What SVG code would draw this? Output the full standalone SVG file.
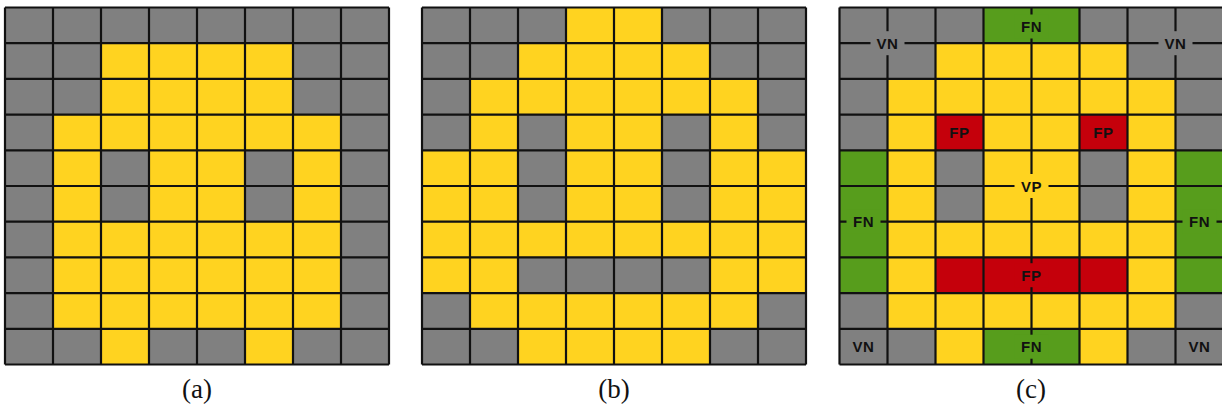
<svg xmlns="http://www.w3.org/2000/svg" xmlns:xlink="http://www.w3.org/1999/xlink" width="1222" height="413" viewBox="0 0 1222 413">
<style>
.g{fill:#808080}
.y{fill:#FFD320}
.gr{fill:#579D1C}
.r{fill:#C5000B}
.lines{fill:none;stroke:#111;stroke-width:2.2}
.lbl{font-family:"Liberation Sans",Arial,sans-serif;font-weight:bold;font-size:15px;letter-spacing:0.6px;fill:#111;text-anchor:middle}
.cap{font-family:"Liberation Serif","Times New Roman",serif;font-size:27px;fill:#111;text-anchor:middle}
</style>
<defs>
<path id="grid" class="lines" d="M0 0V357M48 0V357M96 0V357M144 0V357M192 0V357M240 0V357M288 0V357M336 0V357M384 0V357M0 0H384M0 35.7H384M0 71.4H384M0 107.1H384M0 142.8H384M0 178.5H384M0 214.2H384M0 249.9H384M0 285.6H384M0 321.3H384M0 357H384"/>
</defs>
<rect width="1222" height="413" fill="#fff"/>

<g id="grid-a" transform="translate(5,7.5)">
<rect class="g" x="0" y="0" width="384" height="357"/>
<rect class="y" x="96" y="35.7" width="192" height="71.4"/>
<rect class="y" x="48" y="107.1" width="288" height="35.7"/>
<rect class="y" x="48" y="142.8" width="48" height="71.4"/>
<rect class="y" x="144" y="142.8" width="96" height="71.4"/>
<rect class="y" x="288" y="142.8" width="48" height="71.4"/>
<rect class="y" x="48" y="214.2" width="288" height="107.1"/>
<rect class="y" x="96" y="321.3" width="48" height="35.7"/>
<rect class="y" x="240" y="321.3" width="48" height="35.7"/>
<use xlink:href="#grid" href="#grid"/>
</g>

<g id="grid-b" transform="translate(422,7.5)">
<rect class="g" x="0" y="0" width="384" height="357"/>
<rect class="y" x="144" y="0" width="96" height="35.7"/>
<rect class="y" x="96" y="35.7" width="192" height="35.7"/>
<rect class="y" x="48" y="71.4" width="288" height="35.7"/>
<rect class="y" x="48" y="107.1" width="48" height="35.7"/>
<rect class="y" x="144" y="107.1" width="96" height="35.7"/>
<rect class="y" x="288" y="107.1" width="48" height="35.7"/>
<rect class="y" x="0" y="142.8" width="96" height="71.4"/>
<rect class="y" x="144" y="142.8" width="96" height="71.4"/>
<rect class="y" x="288" y="142.8" width="96" height="71.4"/>
<rect class="y" x="0" y="214.2" width="384" height="35.7"/>
<rect class="y" x="0" y="249.9" width="96" height="35.7"/>
<rect class="y" x="288" y="249.9" width="96" height="35.7"/>
<rect class="y" x="48" y="285.6" width="288" height="35.7"/>
<rect class="y" x="96" y="321.3" width="192" height="35.7"/>
<use xlink:href="#grid" href="#grid"/>
</g>

<g id="grid-c" transform="translate(839.5,7.5)">
<rect class="g" x="0" y="0" width="384" height="357"/>
<rect class="gr" x="144" y="0" width="96" height="35.7"/>
<rect class="y" x="96" y="35.7" width="192" height="35.7"/>
<rect class="y" x="48" y="71.4" width="288" height="249.9"/>
<rect class="r" x="96" y="107.1" width="48" height="35.7"/>
<rect class="r" x="240" y="107.1" width="48" height="35.7"/>
<rect class="g" x="96" y="142.8" width="48" height="71.4"/>
<rect class="g" x="240" y="142.8" width="48" height="71.4"/>
<rect class="gr" x="0" y="142.8" width="48" height="142.8"/>
<rect class="gr" x="336" y="142.8" width="48" height="142.8"/>
<rect class="r" x="96" y="249.9" width="192" height="35.7"/>
<rect class="y" x="96" y="321.3" width="48" height="35.7"/>
<rect class="gr" x="144" y="321.3" width="96" height="35.7"/>
<rect class="y" x="240" y="321.3" width="48" height="35.7"/>
<use xlink:href="#grid" href="#grid"/>
<g id="labels-c">
<rect class="g" x="31" y="23.7" width="34" height="24"/>
<text class="lbl" x="48" y="41">VN</text>
<rect class="g" x="319" y="23.7" width="34" height="24"/>
<text class="lbl" x="336" y="41">VN</text>
<rect class="gr" x="175" y="7" width="34" height="24"/>
<text class="lbl" x="192" y="24.5">FN</text>
<text class="lbl" x="120" y="130.5">FP</text>
<text class="lbl" x="264" y="130.5">FP</text>
<rect class="y" x="175" y="166.5" width="34" height="24"/>
<text class="lbl" x="192" y="184">VP</text>
<rect class="gr" x="7" y="202.2" width="34" height="24"/>
<text class="lbl" x="24" y="219.5">FN</text>
<rect class="gr" x="343" y="202.2" width="34" height="24"/>
<text class="lbl" x="360" y="219.5">FN</text>
<rect class="r" x="175" y="255.7" width="34" height="24"/>
<text class="lbl" x="192" y="273">FP</text>
<rect class="gr" x="175" y="327.2" width="34" height="24"/>
<text class="lbl" x="192" y="344.5">FN</text>
<text class="lbl" x="24" y="344.5">VN</text>
<text class="lbl" x="360" y="344.5">VN</text>
</g>
</g>

<g id="captions">
<text class="cap" x="197" y="398">(a)</text>
<text class="cap" x="614" y="398">(b)</text>
<text class="cap" x="1031" y="398">(c)</text>
</g>
</svg>
